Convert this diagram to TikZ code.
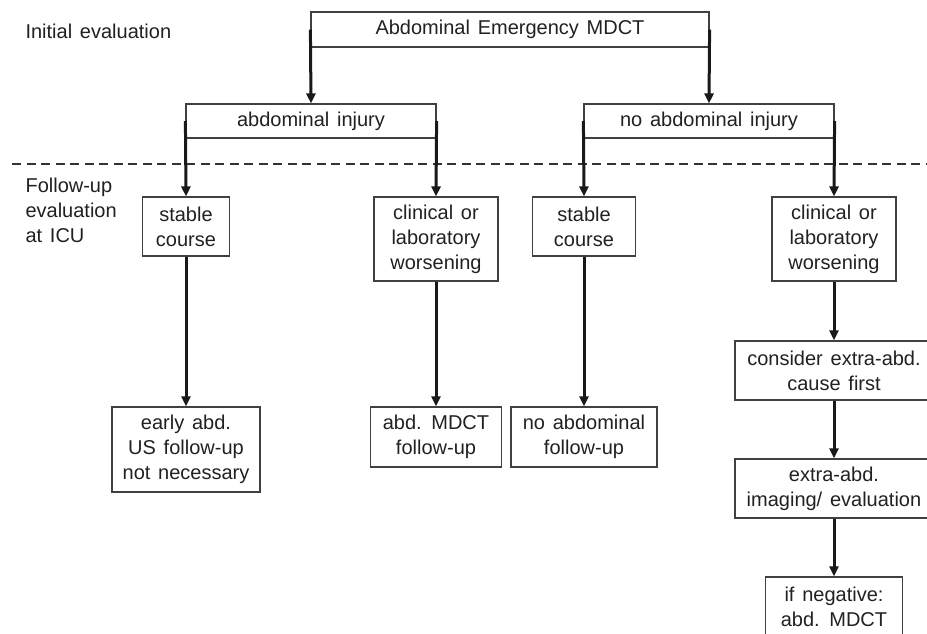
\documentclass[tikz,border=0pt]{standalone}
\usepackage{fontspec}
\setmainfont[WordSpace=1.4]{Liberation Sans}
\usetikzlibrary{arrows.meta}

\begin{document}
\begin{tikzpicture}[x=1pt,y=-1pt,
  every node/.style={font=\fontsize{20}{25}\selectfont, text=black!87},
  box/.style={draw=black!75, line width=1.2pt, inner sep=0pt, align=center},
  flow/.style={line width=3pt, black!90, -{Triangle[length=10pt,width=9pt]}}]
  \useasboundingbox (0,0) rectangle (927,633);
  \clip (0,0) rectangle (927,633);
  \fill[white] (0,0) rectangle (927,633);
  \draw[line width=1.4pt, black!80, dash pattern=on 9pt off 5.5pt](12,164)--(927,164);
  \node[anchor=west] (lbinit) at (22, 31) {Initial evaluation};
  \node[anchor=west, align=left] (lbfollow) at (22, 210) {Follow-up\\evaluation\\at ICU};
  \node[box, minimum width=398pt, minimum height=35pt] (mdct) at (510, 29.5) {Abdominal Emergency MDCT};
  \node[box, minimum width=250pt, minimum height=34pt] (inj) at (311, 121) {abdominal injury};
  \node[box, minimum width=250pt, minimum height=34pt] (noinj) at (709, 121) {no abdominal injury};
  \node[box, minimum width=87pt, minimum height=59pt] (stableA) at (186, 226.5) {stable\\course};
  \node[box, minimum width=124pt, minimum height=84pt] (worseA) at (436, 239) {clinical or\\laboratory\\worsening};
  \node[box, minimum width=103pt, minimum height=59pt] (stableB) at (584, 226.5) {stable\\course};
  \node[box, minimum width=124pt, minimum height=84pt] (worseB) at (834, 239) {clinical or\\laboratory\\worsening};
  \node[box, minimum width=148pt, minimum height=85pt] (earlyus) at (186, 449.5) {early abd.\\US follow-up\\not necessary};
  \node[box, minimum width=131pt, minimum height=60pt] (mdctfu) at (436, 437) {abd. MDCT\\follow-up};
  \node[box, minimum width=146pt, minimum height=60pt] (nofu) at (584, 437) {no abdominal\\follow-up};
  \node[box, minimum width=198pt, minimum height=59pt] (extracause) at (834, 370.5) {consider extra-abd.\\cause first};
  \node[box, minimum width=198pt, minimum height=59pt] (extraimg) at (834, 488.5) {extra-abd.\\imaging/ evaluation};
  \node[box, minimum width=137pt, minimum height=59pt] (negative) at (834, 606.5) {if negative:\\abd. MDCT};
  \draw[flow](mdct.west)--(inj.north);
  \draw[flow](mdct.east)--(noinj.north);
  \draw[flow](inj.west)--(stableA.north);
  \draw[flow](inj.east)--(worseA.north);
  \draw[flow](noinj.west)--(stableB.north);
  \draw[flow](noinj.east)--(worseB.north);
  \draw[flow](stableA)--(earlyus);
  \draw[flow](worseA)--(mdctfu);
  \draw[flow](stableB)--(nofu);
  \draw[flow](worseB)--(extracause);
  \draw[flow](extracause)--(extraimg);
  \draw[flow](extraimg)--(negative);
\end{tikzpicture}
\end{document}
